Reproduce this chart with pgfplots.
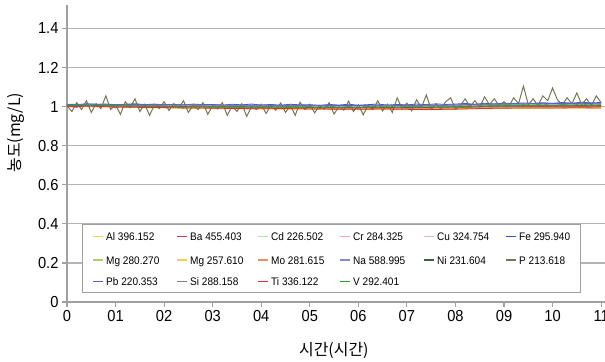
\documentclass[border=0pt]{standalone}
\usepackage{pgfplots}
\pgfplotsset{compat=1.18}
\usepackage{pgfplotstable}
\usepackage{fontspec}
\setmainfont{Liberation Sans}[FakeStretch=0.92]
\newfontfamily\kr{Noto Sans CJK KR}

\definecolor{cAl}{HTML}{E8D84A}
\definecolor{cBa}{HTML}{B84848}
\definecolor{cCd}{HTML}{B8E0B0}
\definecolor{cCr}{HTML}{F0A8C0}
\definecolor{cCu}{HTML}{D8B8E0}
\definecolor{cFe}{HTML}{3858C8}
\definecolor{cMgA}{HTML}{A8D070}
\definecolor{cMgB}{HTML}{F0D050}
\definecolor{cMo}{HTML}{F09060}
\definecolor{cNa}{HTML}{8888D0}
\definecolor{cNi}{HTML}{3C6040}
\definecolor{cP}{HTML}{767656}
\definecolor{cPb}{HTML}{6060C8}
\definecolor{cSi}{HTML}{808080}
\definecolor{cTi}{HTML}{E03030}
\definecolor{cV}{HTML}{30A030}
\definecolor{gridc}{HTML}{B4B4B4}
\definecolor{axisc}{HTML}{A0A0A0}

% one legend entry: x of text start, y of text centre (bp, from the axis' lower left corner), colour, text
\newcommand\legentry[4]{%
  \begin{scope}[shift={(#1bp,#2bp)}]
    \fill[#3] (-13bp,-0.75bp) rectangle (-3bp,0.75bp);
    \node[anchor=base west, inner sep=0pt, font=\fontsize{11}{13}\selectfont] at (0bp,-4bp) {#4};
  \end{scope}}

\pgfplotstableread{
x Al Ba Cd Cr Cu MgA MgB Mo Na Ni Pb Ti V
0 0.998 1.003 1.007 1.008 1.009 1.005 1.000 1.002 1.010 1.004 1.011 1.000 1.006
0.5 1.000 1.004 1.008 1.009 1.010 1.006 1.001 1.003 1.012 1.006 1.013 1.002 1.007
1 0.996 1.001 1.006 1.007 1.008 1.004 0.998 1.000 1.010 1.003 1.011 0.998 1.005
1.5 0.994 0.999 1.005 1.006 1.007 1.003 0.996 0.998 1.009 1.002 1.010 0.996 1.004
2 0.993 0.998 1.004 1.005 1.006 1.002 0.995 0.997 1.008 1.001 1.010 0.995 1.003
2.5 0.991 0.997 1.003 1.004 1.006 1.001 0.993 0.995 1.008 1.000 1.009 0.993 1.002
3 0.990 0.996 1.003 1.004 1.005 1.000 0.992 0.994 1.007 0.999 1.009 0.992 1.001
3.5 0.989 0.995 1.002 1.003 1.004 0.999 0.991 0.993 1.006 0.998 1.008 0.990 1.000
4 0.988 0.994 1.001 1.002 1.004 0.998 0.990 0.992 1.006 0.997 1.008 0.989 0.999
4.5 0.987 0.993 1.001 1.002 1.003 0.998 0.989 0.991 1.005 0.997 1.007 0.990 0.999
5 0.986 0.992 1.000 1.001 1.003 0.997 0.988 0.990 1.005 0.996 1.007 0.988 0.998
5.5 0.985 0.991 0.999 1.000 1.002 0.996 0.987 0.989 1.004 0.995 1.006 0.987 0.997
6 0.984 0.991 0.999 1.000 1.002 0.996 0.987 0.989 1.004 0.995 1.006 0.986 0.997
6.5 0.985 0.992 1.000 1.001 1.003 0.997 0.987 0.990 1.005 0.996 1.007 0.988 0.998
7 0.984 0.991 1.000 1.001 1.003 0.997 0.986 0.989 1.005 0.996 1.007 0.986 0.998
7.5 0.984 0.992 1.000 1.001 1.003 0.997 0.987 0.989 1.005 0.996 1.008 0.985 0.998
8 0.986 0.994 1.002 1.003 1.005 0.999 0.989 0.991 1.007 0.998 1.009 0.987 1.000
8.5 0.989 0.997 1.005 1.006 1.008 1.002 0.992 0.994 1.010 1.001 1.012 0.990 1.003
9 0.990 0.999 1.007 1.008 1.010 1.004 0.993 0.996 1.012 1.003 1.014 0.992 1.005
9.5 0.991 1.000 1.008 1.009 1.011 1.005 0.994 0.997 1.013 1.004 1.015 0.993 1.006
10 0.991 1.000 1.009 1.010 1.012 1.006 0.994 0.997 1.014 1.004 1.016 0.993 1.007
10.5 0.992 1.001 1.009 1.010 1.012 1.006 0.995 0.998 1.014 1.005 1.016 0.994 1.007
11 0.992 1.001 1.010 1.011 1.013 1.007 0.995 0.998 1.015 1.005 1.017 0.993 1.008
}\main

\pgfplotstableread{
x Fe Si
0.0 1.012 1.004
0.2 1.009 0.996
0.4 1.014 1.010
0.6 1.010 0.999
0.8 1.013 1.006
1.0 1.008 0.993
1.2 1.012 1.008
1.4 1.015 1.001
1.6 1.010 0.995
1.8 1.013 1.009
2.0 1.009 0.998
2.2 1.012 1.004
2.4 1.008 0.992
2.6 1.013 1.007
2.8 1.010 1.000
3.0 1.011 0.994
3.2 1.007 1.006
3.4 1.012 0.997
3.6 1.009 1.003
3.8 1.013 0.991
4.0 1.008 1.005
4.2 1.011 0.998
4.4 1.007 0.993
4.6 1.012 1.006
4.8 1.009 0.996
5.0 1.010 1.002
5.2 1.006 0.990
5.4 1.011 1.004
5.6 1.008 0.995
5.8 1.012 1.001
6.0 1.007 0.991
6.2 1.010 1.005
6.4 1.013 0.997
6.6 1.008 1.008
6.8 1.011 0.994
7.0 1.009 1.003
7.2 1.013 0.998
7.4 1.010 1.009
7.6 1.014 0.996
7.8 1.011 1.004
8.0 1.013 1.000
8.2 1.016 1.010
8.4 1.012 0.998
8.6 1.017 1.012
8.8 1.014 1.003
9.0 1.018 1.014
9.2 1.015 1.001
9.4 1.019 1.011
9.6 1.016 1.004
9.8 1.020 1.015
10.0 1.017 1.002
10.2 1.021 1.012
10.4 1.018 1.006
10.6 1.022 1.016
10.8 1.019 1.003
11.0 1.021 1.010
}\femain

\pgfplotstableread{
x P
0.0 1.005
0.1 0.975
0.2 1.020
0.3 0.985
0.4 1.030
0.5 0.970
0.6 1.015
0.7 0.990
0.8 1.055
0.9 0.985
1.0 1.010
1.1 0.960
1.2 1.025
1.3 0.995
1.4 1.040
1.5 0.975
1.6 1.012
1.7 0.955
1.8 1.008
1.9 0.990
2.0 1.025
2.1 0.980
2.2 1.015
2.3 0.993
2.4 1.030
2.5 0.970
2.6 1.008
2.7 0.985
2.8 1.020
2.9 0.960
3.0 1.005
3.1 0.988
3.2 1.020
3.3 0.955
3.4 1.003
3.5 0.975
3.6 1.015
3.7 0.950
3.8 1.000
3.9 0.985
4.0 1.012
4.1 0.965
4.2 1.005
4.3 0.982
4.4 1.018
4.5 0.970
4.6 1.008
4.7 0.955
4.8 1.022
4.9 0.985
5.0 1.012
5.1 0.968
5.2 1.006
5.3 0.988
5.4 1.020
5.5 0.962
5.6 1.000
5.7 0.982
5.8 1.028
5.9 0.975
6.0 1.010
6.1 0.958
6.2 1.005
6.3 0.985
6.4 1.030
6.5 0.978
6.6 1.012
6.7 0.970
6.8 1.045
6.9 0.990
7.0 1.018
7.1 0.978
7.2 1.035
7.3 0.995
7.4 1.060
7.5 0.985
7.6 1.015
7.7 0.990
7.8 1.025
7.9 1.045
8.0 0.988
8.1 1.005
8.2 1.040
8.3 1.000
8.4 1.030
8.5 0.998
8.6 1.050
8.7 1.010
8.8 1.040
8.9 1.005
9.0 1.025
9.1 1.002
9.2 1.045
9.3 1.015
9.4 1.105
9.5 1.010
9.6 1.040
9.7 1.005
9.8 1.055
9.9 1.030
10.0 1.095
10.1 1.035
10.2 1.010
10.3 1.045
10.4 1.015
10.5 1.070
10.6 1.010
10.7 1.040
10.8 1.005
10.9 1.055
11.0 1.020
}\pmain

\begin{document}
\begin{tikzpicture}
\useasboundingbox (-67bp,-60bp) rectangle (538bp,302bp);
\begin{axis}[
  scale only axis,
  width=538bp, height=297bp,
  xmin=0, xmax=11.08,
  ymin=0, ymax=1.52,
  axis lines=left,
  axis line style={-, draw=axisc, line width=1.5bp},
  tick align=outside,
  major tick length=5bp,
  tick style={draw=axisc, line width=1.2bp},
  xtick={0,1,2,3,4,5,6,7,8,9,10,11},
  xticklabels={0,01,02,03,04,05,06,07,08,09,10,11},
  ytick={0,0.2,0.4,0.6,0.8,1,1.2,1.4},
  yticklabels={0,0.2,0.4,0.6,0.8,1,1.2,1.4},
  ymajorgrids,
  major grid style={draw=gridc, line width=1.2bp},
  tick label style={font=\fontsize{16}{19}\selectfont, text=black},
  /pgf/number format/assume math mode=true,
  xlabel={\kr 시간(시간)},
  ylabel={\kr 농도(mg/L)},
  xlabel style={font=\fontsize{16}{19}\selectfont, at={(axis description cs:0.496,-0.162)}, anchor=center},
  ylabel style={font=\fontsize{16}{19}\selectfont, at={(axis description cs:-0.095,0.57)}, anchor=center},
  every axis plot/.append style={line width=0.8bp},
]
\addplot[cAl] table[x=x,y=Al]{\main};
\addplot[cBa] table[x=x,y=Ba]{\main};
\addplot[cCd] table[x=x,y=Cd]{\main};
\addplot[cCr] table[x=x,y=Cr]{\main};
\addplot[cCu] table[x=x,y=Cu]{\main};
\addplot[cFe] table[x=x,y=Fe]{\femain};
\addplot[cMgA] table[x=x,y=MgA]{\main};
\addplot[cMgB] table[x=x,y=MgB]{\main};
\addplot[cMo] table[x=x,y=Mo]{\main};
\addplot[cNa] table[x=x,y=Na]{\main};
\addplot[cNi] table[x=x,y=Ni]{\main};
\addplot[cP, line width=1bp] table[x=x,y=P]{\pmain};
\addplot[cPb] table[x=x,y=Pb]{\main};
\addplot[cSi] table[x=x,y=Si]{\femain};
\addplot[cTi] table[x=x,y=Ti]{\main};
\addplot[cV] table[x=x,y=V]{\main};
\end{axis}
% legend box
\filldraw[fill=white, draw=axisc, line width=1bp] (15.7bp,9.3bp) rectangle (513.7bp,77bp);
% row 1
\legentry{39}{65.3}{cAl}{Al 396.152}
\legentry{123}{65.3}{cBa}{Ba 455.403}
\legentry{204}{65.3}{cCd}{Cd 226.502}
\legentry{286}{65.3}{cCr}{Cr 284.325}
\legentry{370}{65.3}{cCu}{Cu 324.754}
\legentry{452}{65.3}{cFe}{Fe 295.940}
% row 2
\legentry{39}{42}{cMgA}{Mg 280.270}
\legentry{123}{42}{cMgB}{Mg 257.610}
\legentry{204}{42}{cMo}{Mo 281.615}
\legentry{286}{42}{cNa}{Na 588.995}
\legentry{370}{42}{cNi}{Ni 231.604}
\legentry{452}{42}{cP}{P 213.618}
% row 3
\legentry{39}{20.3}{cPb}{Pb 220.353}
\legentry{123}{20.3}{cSi}{Si 288.158}
\legentry{204}{20.3}{cTi}{Ti 336.122}
\legentry{286}{20.3}{cV}{V 292.401}
\end{tikzpicture}
\end{document}
